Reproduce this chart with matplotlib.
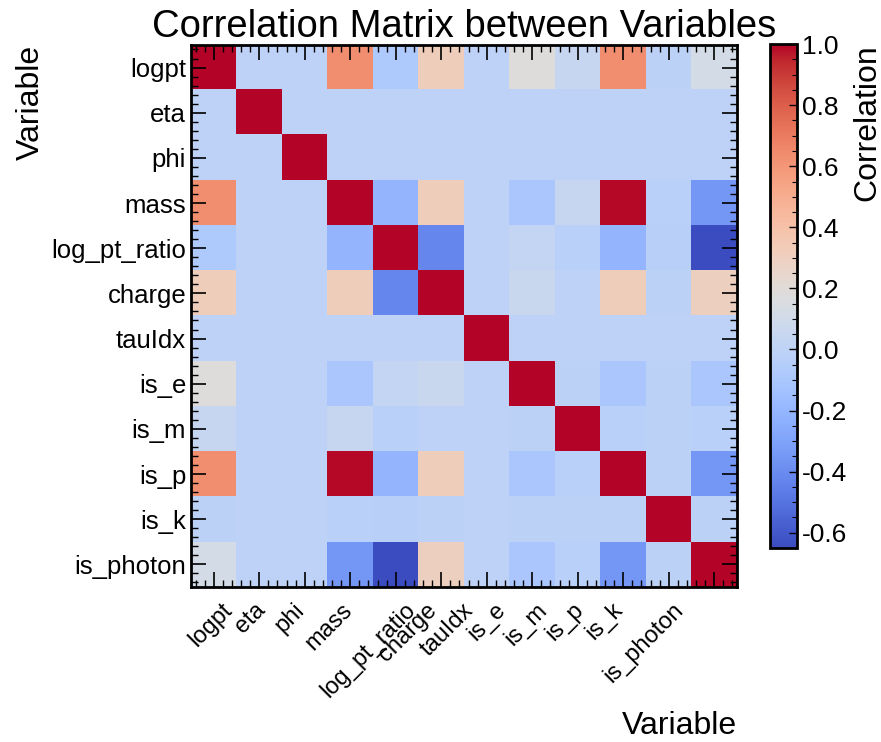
import matplotlib
matplotlib.use('Agg')
import matplotlib.pyplot as plt
import matplotlib.transforms as mtransforms
from matplotlib.ticker import AutoMinorLocator, MultipleLocator
import numpy as np

plt.rcParams['font.family'] = ['Liberation Sans', 'DejaVu Sans']
plt.rcParams['axes.unicode_minus'] = False

# variable names (same order on both axes)
variables = ['logpt', 'eta', 'phi', 'mass', 'log_pt_ratio', 'charge',
             'tauIdx', 'is_e', 'is_m', 'is_p', 'is_k', 'is_photon']

# correlation values (rows top -> bottom)
corr = np.array([
    [1.00, 0.00, 0.00, 0.63, -0.08, 0.32, 0.00, 0.18, 0.04, 0.63, -0.01, 0.12],
    [0.00, 1.00, 0.00, 0.00, 0.00, 0.00, 0.00, 0.00, 0.00, 0.00, 0.00, 0.00],
    [0.00, 0.00, 1.00, 0.00, 0.00, 0.00, 0.00, 0.00, 0.00, 0.00, 0.00, 0.00],
    [0.63, 0.00, 0.00, 1.00, -0.20, 0.32, 0.00, -0.10, 0.04, 0.99, -0.02, -0.35],
    [-0.08, 0.00, 0.00, -0.20, 1.00, -0.42, 0.00, 0.03, -0.02, -0.20, -0.03, -0.65],
    [0.32, 0.00, 0.00, 0.32, -0.42, 1.00, 0.00, 0.06, 0.00, 0.32, -0.01, 0.30],
    [0.00, 0.00, 0.00, 0.00, 0.00, 0.00, 1.00, 0.00, 0.00, 0.00, 0.00, 0.00],
    [0.18, 0.00, 0.00, -0.10, 0.03, 0.06, 0.00, 1.00, -0.01, -0.10, -0.01, -0.10],
    [0.04, 0.00, 0.00, 0.04, -0.02, 0.00, 0.00, -0.01, 1.00, -0.02, -0.01, -0.02],
    [0.63, 0.00, 0.00, 0.99, -0.20, 0.32, 0.00, -0.10, -0.02, 1.00, -0.01, -0.35],
    [-0.01, 0.00, 0.00, -0.02, -0.03, -0.01, 0.00, -0.01, -0.01, -0.01, 1.00, -0.01],
    [0.12, 0.00, 0.00, -0.35, -0.65, 0.30, 0.00, -0.10, -0.02, -0.35, -0.01, 1.00],
])

fig = plt.figure(figsize=(8.81, 7.42), dpi=100)
ax = fig.add_axes([0.2168, 0.2089, 0.6197, 0.7305])
cax = fig.add_axes([0.874, 0.2615, 0.0306, 0.679])

im = ax.imshow(corr, cmap='coolwarm', vmin=-0.65, vmax=1.0,
               aspect='auto', interpolation='nearest')

n = len(variables)
ax.set_xticks(np.arange(n))
ax.set_xticklabels([])
ax.set_yticks(np.arange(n))
ax.set_yticklabels(variables, fontsize=18.5)
ax.xaxis.set_minor_locator(AutoMinorLocator(5))
ax.yaxis.set_minor_locator(AutoMinorLocator(5))
ax.tick_params(which='both', direction='in', top=True, right=True)
ax.tick_params(which='major', length=11, width=1.2)
ax.tick_params(which='minor', length=5, width=1.0)
for sp in ax.spines.values():
    sp.set_linewidth(2)

# rotated x labels, spaced as in the original figure
trans = mtransforms.blended_transform_factory(ax.transData, ax.transAxes)
for i, name in enumerate(variables):
    ax.text(i * 0.865 - 0.06, -0.022, name, transform=trans, rotation=45,
            ha='center', va='top', fontsize=17)

ax.set_title('Correlation Matrix between Variables', fontsize=27.5, pad=1)
ax.set_ylabel('Variable', fontsize=23, loc='top')
ax.set_xlabel('Variable', fontsize=23, loc='right')
ax.xaxis.set_label_coords(1.0, -0.228)

# colorbar
cb = fig.colorbar(im, cax=cax)
cb.set_label('Correlation', fontsize=23, loc='top')
cb.locator = MultipleLocator(0.2)
cb.update_ticks()
cax.yaxis.set_minor_locator(MultipleLocator(0.05))
cax.tick_params(which='both', direction='in', right=True, left=False, labelsize=19)
cax.tick_params(which='major', length=6, width=1.0)
cax.tick_params(which='minor', length=3.5, width=0.8)
cb.outline.set_linewidth(2)

fig.savefig('out.png', dpi=100)
